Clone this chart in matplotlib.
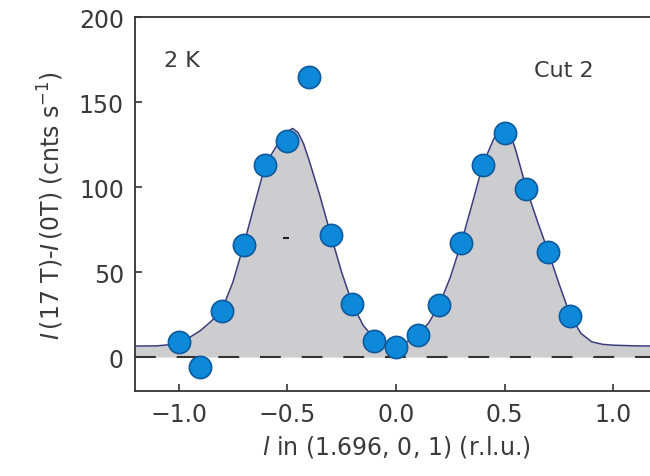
import numpy as np
import matplotlib
matplotlib.use("Agg")
import matplotlib.pyplot as plt

plt.rcParams['font.family'] = ['DejaVu Sans']
plt.rcParams['mathtext.fontset'] = 'dejavusans'

# Measured points (cut 2, 2 K)
l_vals = [-1.0, -0.9, -0.8, -0.7, -0.6, -0.5, -0.4, -0.3, -0.2, -0.1,
          0.0, 0.1, 0.2, 0.3, 0.4, 0.5, 0.6, 0.7, 0.8]
counts = [8.8, -6, 27, 66, 113, 127, 165, 72, 31, 9.5,
          6, 13, 30.6, 67, 113, 132, 99, 62, 24]

# Fitted curve
curve_x = [-1.20, -1.10, -1.05, -1.00, -0.95, -0.90, -0.85, -0.80, -0.75, -0.70,
           -0.65, -0.60, -0.55, -0.525, -0.50, -0.475, -0.45, -0.425, -0.40, -0.35,
           -0.30, -0.25, -0.20, -0.15, -0.10, -0.05, 0.00, 0.05, 0.10, 0.15,
           0.20, 0.25, 0.30, 0.35, 0.40, 0.45, 0.475, 0.50, 0.525, 0.55,
           0.60, 0.65, 0.70, 0.75, 0.80, 0.85, 0.90, 0.95, 1.00, 1.10, 1.20]
curve_y = [6.5, 6.6, 7.2, 8.7, 11.5, 15.5, 21, 28, 44, 66,
           90, 113.5, 124, 129, 132.5, 134.5, 132, 125.5, 116, 95,
           72, 50, 31, 18.5, 11, 8, 7, 9, 13, 20,
           31, 47, 67, 90, 113.5, 128.5, 133, 135, 131.5, 122,
           99, 80, 62, 43, 25, 14, 9, 7.5, 7, 6.6, 6.5]

# small stray dash in the original
stray_x = [-0.504]
stray_y = [70]

xticks = [-1.0, -0.5, 0.0, 0.5, 1.0]
yticks = [0, 50, 100, 150, 200]

fig = plt.figure(figsize=(6.5, 4.77), dpi=100)
ax = fig.add_axes([0.2077, 0.178, 0.803, 0.7841])

ax.fill_between(curve_x, 0, curve_y, color='#cdcdd0', lw=0, zorder=1)
ax.plot(curve_x, curve_y, color='#3c3c7c', lw=1.1, zorder=2)
ax.axhline(0, color='#333333', lw=1.5, dashes=(10, 10), zorder=3)
ax.plot(stray_x, stray_y, marker='_', ms=5, mew=1.5, color='#222222', ls='none', zorder=3)
ax.plot(l_vals, counts, 'o', ms=16, mfc='#0e88d8', mec='#0d5a9c', mew=1.2, zorder=4)

ax.set_xlim(-1.2, 1.2)
ax.set_ylim(-20, 200)
ax.set_xticks(xticks)
ax.set_yticks(yticks)
ax.set_xticklabels(['\u22121.0', '\u22120.5', '0.0', '0.5', '1.0'])

for side in ['left', 'top', 'bottom', 'right']:
    ax.spines[side].set_color('#333333')
    ax.spines[side].set_linewidth(1.3)
ax.tick_params(direction='in', length=5, width=1.2, color='#333333',
               labelsize=17, labelcolor='#3a3a3a', pad=8)

ax.set_xlabel(r"$\mathit{l}$ in (1.696, 0, 1) (r.l.u.)", fontsize=17, color='#3a3a3a', labelpad=5)
ax.set_ylabel(r"$\mathit{I}\,$(17 T)-$\mathit{I}\,$(0T) (cnts s$^{-1}$)", fontsize=17,
              color='#3a3a3a', labelpad=9)

ax.text(-1.065, 175, '2 K', fontsize=16, color='#3a3a3a', va='center', ha='left')
ax.text(0.636, 169, 'Cut 2', fontsize=16, color='#3a3a3a', va='center', ha='left')

fig.savefig('out.png', dpi=100)
